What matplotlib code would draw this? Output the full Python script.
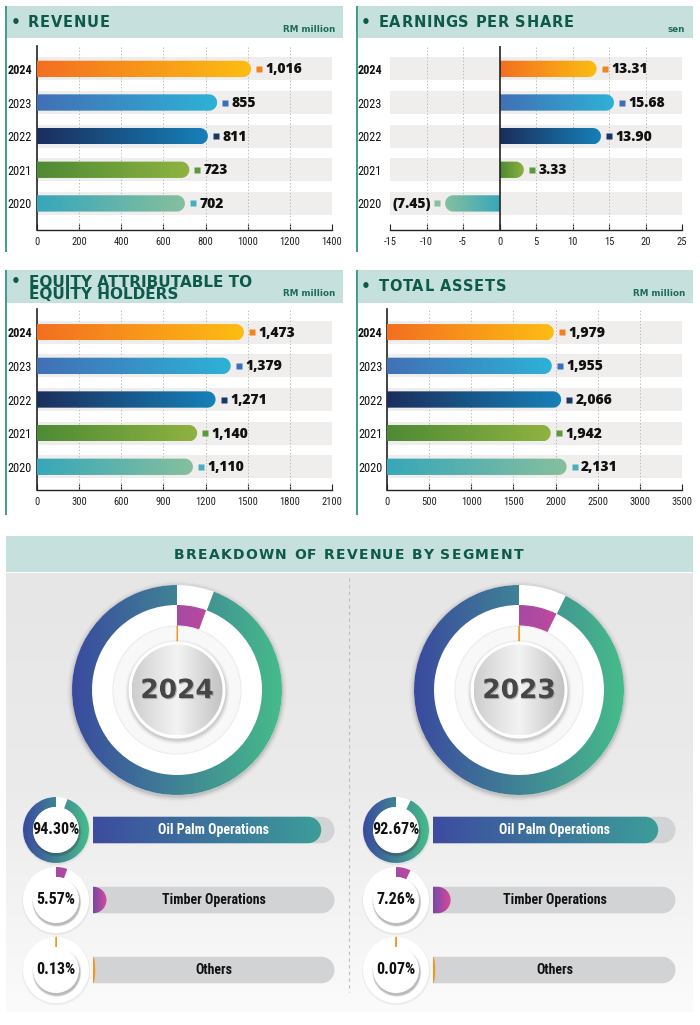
import numpy as np
import matplotlib
matplotlib.use('Agg')
import matplotlib.pyplot as plt
from matplotlib.patches import Rectangle, Circle, Wedge, PathPatch
from matplotlib.path import Path
from matplotlib.transforms import IdentityTransform, offset_copy
from matplotlib.colors import LinearSegmentedColormap
import matplotlib.patheffects as pe
from matplotlib import font_manager as fm

plt.rcParams['axes.unicode_minus'] = False

# ---------------- data ----------------
years = ['2024', '2023', '2022', '2021', '2020']

revenue = [1016, 855, 811, 723, 702]
revenue_text = ['1,016', '855', '811', '723', '702']
revenue_ticks = [0, 200, 400, 600, 800, 1000, 1200, 1400]

eps = [13.31, 15.68, 13.90, 3.33, -7.45]
eps_text = ['13.31', '15.68', '13.90', '3.33', '(7.45)']
eps_ticks = [-15, -10, -5, 0, 5, 10, 15, 20, 25]

equity = [1473, 1379, 1271, 1140, 1110]
equity_text = ['1,473', '1,379', '1,271', '1,140', '1,110']
equity_ticks = [0, 300, 600, 900, 1200, 1500, 1800, 2100]

assets = [1979, 1955, 2066, 1942, 2131]
assets_text = ['1,979', '1,955', '2,066', '1,942', '2,131']
assets_ticks = [0, 500, 1000, 1500, 2000, 2500, 3000, 3500]

segments = ['Oil Palm Operations', 'Timber Operations', 'Others']
share_2024 = [94.30, 5.57, 0.13]
share_2023 = [92.67, 7.26, 0.07]
share_text_2024 = ['94.30%', '5.57%', '0.13%']
share_text_2023 = ['92.67%', '7.26%', '0.07%']

# ---------------- style ----------------
W, H, DPI = 700, 1025, 100
TEAL_BAND = '#c6e1dd'
TITLE_C = '#0d5a4b'
ACCENT = '#3f9e8a'
ROW_BAND = '#efeeec'
bar_colors = {
    '2024': ('#f36f21', '#fdbd13'),
    '2023': ('#4270b6', '#2eb2d6'),
    '2022': ('#1b2e5d', '#1681b8'),
    '2021': ('#4e8a35', '#8fb340'),
    '2020': ('#37a7ba', '#86bf9e'),
}
marker_colors = {'2024': '#f58220', '2023': '#3b6fb8', '2022': '#1b3565',
                 '2021': '#5a9a3a', '2020': '#46afc0'}
OIL = ('#3a4a9f', '#46bc8b')
OIL_BAR = ('#3c4ca0', '#3d9d99')
TIMBER = ('#7549a8', '#d9499b')
OTHERS = '#f7941d'

_names = {f.name for f in fm.fontManager.ttflist}
NARROW = next((n for n in ['Liberation Sans Narrow', 'Roboto Condensed',
                           'DejaVu Sans Condensed'] if n in _names), None)
VALUE_FONT = 'Open Sans' if 'Open Sans' in _names else 'DejaVu Sans'


def nfont(size, bold=False):
    d = dict(fontsize=size, fontweight='bold' if bold else 'normal')
    if NARROW:
        d['family'] = NARROW
    else:
        d.update(family='DejaVu Sans', fontstretch='condensed')
    return d


grad = np.linspace(0, 1, 256).reshape(1, -1)


def cmap2(*cols):
    return LinearSegmentedColormap.from_list('g', list(cols))


fig = plt.figure(figsize=(W / DPI, H / DPI), dpi=DPI)
fig.patch.set_facecolor('white')
bg = fig.add_axes([0, 0, 1, 1])
bg.set_xlim(0, W)
bg.set_ylim(H, 0)
bg.set_autoscale_on(False)
bg.axis('off')
renderer = fig.canvas.get_renderer()


def px_axes(x, y, w, h):
    return fig.add_axes([x / W, 1 - (y + h) / H, w / W, h / H])


def pill_path(xa, xb, yc, h):
    r = h / 2.0
    L = abs(xb - xa)
    s = 1 if xb >= xa else -1
    rx = min(r, L)
    cx = xb - s * rx
    t = np.linspace(-np.pi / 2, np.pi / 2, 48)
    ax_ = cx + s * rx * np.cos(t)
    ay_ = yc + r * np.sin(t)
    verts = [(xa, yc - r)] + list(zip(ax_, ay_)) + [(xa, yc + r), (xa, yc - r)]
    codes = [Path.MOVETO] + [Path.LINETO] * (len(ax_) + 1) + [Path.CLOSEPOLY]
    return Path(verts, codes)


def tracked(x, yc, s, size, track, ha='left', color=TITLE_C, family='DejaVu Sans'):
    fp = fm.FontProperties(family=family, weight='bold', size=size)

    def wid(t):
        return renderer.get_text_width_height_descent(t, fp, ismath=False)[0]
    total = wid(s) + track * (len(s) - 1)
    x0 = x - total / 2 if ha == 'center' else x
    cap = 0.73 * size * DPI / 72
    yb = yc + cap / 2
    for i, ch in enumerate(s):
        if ch == ' ':
            continue
        xi = x0 + (wid(s[:i + 1]) - wid(ch)) + track * i
        bg.text(xi, yb, ch, ha='left', va='baseline', fontproperties=fp,
                color=color, zorder=10)


# ---------------- panel decorations ----------------
panels = [(6, 6, 337, 32, 252), (357, 6, 336, 32, 252),
          (6, 270, 337, 33, 515), (357, 270, 336, 33, 515)]
for (px, py, pw, ph, pbot) in panels:
    bg.add_patch(Rectangle((px, py), pw, ph, fc=TEAL_BAND, ec='none', zorder=1))
    bg.plot([px, px], [py, pbot], color=ACCENT, lw=1.4, zorder=2,
            solid_capstyle='butt')

for (bx, yc) in [(16, 22), (366, 22), (16, 280.5), (366, 285.5)]:
    bg.text(bx, yc + 1, '\u2022', ha='center', va='center', fontsize=11,
            fontweight='bold', color=TITLE_C, zorder=10)
tracked(28, 22, 'REVENUE', 10.5, 0.7)
tracked(378.5, 22, 'EARNINGS PER SHARE', 10.5, 0.7)
bg.text(29, 274.8, 'EQUITY ATTRIBUTABLE TO\nEQUITY HOLDERS', ha='left', va='top',
        fontsize=11, fontweight='bold', color=TITLE_C, linespacing=0.74, zorder=10)
tracked(378.5, 285.5, 'TOTAL ASSETS', 10.5, 0.7)

for (ux, uy, ut) in [(335, 30, 'RM million'), (685, 30, 'sen'),
                     (335, 293.5, 'RM million'), (685, 293.5, 'RM million')]:
    bg.text(ux, uy, ut, ha='right', va='center', fontsize=6.3, fontweight='bold',
            color='#1e6a5b', zorder=10)


# ---------------- bar panels ----------------
def bar_panel(box, vals, texts, ticks, ylim, label_pad, zero_line=False):
    x, y, w, h = box
    ax = px_axes(x, y, w, h)
    ax.set_facecolor('none')
    lo, hi = ticks[0], ticks[-1]
    ax.set_xlim(lo, hi)
    ax.set_ylim(*ylim)
    rows = np.arange(len(vals))
    ax.barh(rows, hi - lo, left=lo, height=0.68, color=ROW_BAND, lw=0, zorder=1)
    for t in ticks[1:-1]:
        if t == 0:
            continue
        ax.axvline(t, color='#b4b4b4', lw=0.7, ls=(0, (1.2, 2.2)), zorder=2)
    p0 = ax.transData.transform((0, 0))
    p1 = ax.transData.transform((0, 1))
    row_px = abs(p1[1] - p0[1])
    bh = 0.485
    for i, (v, yr) in enumerate(zip(vals, years)):
        c0, c1 = bar_colors[yr]
        xa, yc = ax.transData.transform((0, i))
        xb, _ = ax.transData.transform((v, i))
        clip = PathPatch(pill_path(xa, xb, yc, bh * row_px),
                         transform=IdentityTransform(), fc='none', ec='none')
        ax.add_patch(clip)
        im = ax.imshow(grad, extent=(0, v, i + bh / 2, i - bh / 2), aspect='auto',
                       cmap=cmap2(c0, c1), zorder=3, interpolation='bilinear')
        im.set_clip_path(clip)
        s = 1 if v >= 0 else -1
        mc = marker_colors[yr] if v >= 0 else c1
        ax.plot([v], [i], 's', ms=3.8, color=mc, mec='none', zorder=4,
                transform=offset_copy(ax.transData, fig=fig, x=s * 8, y=0, units='dots'))
        ax.text(v, i, texts[i], ha='left' if s > 0 else 'right', va='center',
                fontsize=10, fontweight=800, family=VALUE_FONT, color='#111',
                zorder=4,
                transform=offset_copy(ax.transData, fig=fig, x=s * 14.5, y=-0.5,
                                      units='dots'))
    for sp in ['top', 'right']:
        ax.spines[sp].set_visible(False)
    ax.spines['bottom'].set_color('#222')
    ax.spines['bottom'].set_linewidth(1.0)
    if zero_line:
        ax.spines['left'].set_visible(False)
        ax.axvline(0, color='#222', lw=1.2, zorder=5)
    else:
        ax.spines['left'].set_color('#222')
        ax.spines['left'].set_linewidth(1.2)
    ax.set_xticks(ticks)
    ax.set_xticklabels([str(t) for t in ticks])
    ax.tick_params(axis='x', direction='in', length=4, width=0.8, color='#222',
                   pad=5, labelcolor='#222')
    for lab in ax.get_xticklabels():
        lab.update(nfont(7.6))
    ax.set_yticks(rows)
    ax.set_yticklabels(years)
    ax.tick_params(axis='y', length=0, pad=label_pad, labelcolor='#111')
    for j, lab in enumerate(ax.get_yticklabels()):
        lab.update(nfont(8.8, bold=(j == 0)))
    return ax


bar_panel((37, 46, 295, 184), revenue, revenue_text, revenue_ticks, (4.79, -0.68), 3.6)
bar_panel((390, 46, 292, 184), eps, eps_text, eps_ticks, (4.79, -0.68), 5.8, zero_line=True)
bar_panel((37, 309, 295, 181), equity, equity_text, equity_ticks, (4.69, -0.69), 3.6)
bar_panel((387, 309, 295, 181), assets, assets_text, assets_ticks, (4.69, -0.69), 3.2)

# ---------------- breakdown section ----------------
bg.add_patch(Rectangle((6, 536), 687, 36, fc=TEAL_BAND, ec='none', zorder=1))
tracked_title = 'BREAKDOWN OF REVENUE BY SEGMENT'
_fp = fm.FontProperties(family='DejaVu Sans', weight='bold', size=10)
_w0 = renderer.get_text_width_height_descent(tracked_title, _fp, ismath=False)[0]
_track = (349 - _w0) / (len(tracked_title) - 1)
tracked(348.5, 553.5, tracked_title, 10, _track, ha='center')

bg.imshow(np.linspace(0, 1, 256).reshape(-1, 1), extent=(6, 693, 1012, 573),
          cmap=cmap2('#e6e6e6', '#ebebeb', '#fbfbfb'), aspect='auto', zorder=0.5)
bg.plot([349, 349], [578, 992], color='#bdbdbd', lw=0.8, ls=(0, (3, 3)), zorder=1)


def grad_wedge(cx, cy, R, width, a0, a1, colors, z):
    wdg = Wedge((cx, cy), R, a0 - 90, a1 - 90, width=width,
                transform=bg.transData, fc='none', ec='none')
    bg.add_patch(wdg)
    im = bg.imshow(grad, extent=(cx - R, cx + R, cy + R, cy - R), cmap=cmap2(*colors),
                   aspect='auto', zorder=z, interpolation='bilinear')
    im.set_clip_path(wdg)


def grad_circle(cx, cy, R, colors, z):
    c = Circle((cx, cy), R, transform=bg.transData, fc='none', ec='none')
    bg.add_patch(c)
    im = bg.imshow(grad, extent=(cx - R, cx + R, cy + R, cy - R), cmap=cmap2(*colors),
                   aspect='auto', zorder=z, interpolation='bilinear')
    im.set_clip_path(c)


def big_donut(cx, cy, shares, year):
    oil, timber, others = shares
    R = 105
    for k, a in [(5, 0.025), (3.5, 0.035), (2, 0.05), (1, 0.06)]:
        bg.add_patch(Circle((cx, cy + 1.5), R + k, fc='#000', alpha=a, ec='none', zorder=2))
    bg.add_patch(Circle((cx, cy), R, fc='white', ec='none', zorder=3))
    grad_wedge(cx, cy, R, 20, 360 * (1 - oil / 100), 360, OIL, 4)
    grad_wedge(cx, cy, 85, 22, 0, 360 * timber / 100, TIMBER, 4)
    bg.add_patch(Circle((cx, cy), 64, fc='#f8f8f8', ec='#ececec', lw=0.8, zorder=4))
    bg.add_patch(Wedge((cx, cy), 64, -90, 360 * others / 100 - 90, width=15,
                       fc=OTHERS, ec=OTHERS, lw=0.7, zorder=5))
    for k, a in [(4, 0.04), (2.5, 0.06), (1.2, 0.08)]:
        bg.add_patch(Circle((cx + 0.5, cy + 2), 48 + k, fc='#000', alpha=a, ec='none', zorder=6))
    bg.add_patch(Circle((cx, cy), 48.5, fc='white', ec='none', zorder=6))
    grad_circle(cx, cy, 45.5, ('#cdcdcd', '#e2e2e2', '#f3f3f3', '#dadada', '#c2c2c2'), 7)
    bg.text(cx, cy + 1, year, ha='center', va='center', fontsize=19, fontweight='bold',
            color='#464646', zorder=8,
            path_effects=[pe.withSimplePatchShadow(offset=(0.8, -0.8),
                                                   shadow_rgbFace='#8a8a8a', alpha=0.6)])


def small_donut(cx, cy, idx, shares, text):
    R, r = 33, 23
    v = shares[idx]
    bg.add_patch(Circle((cx + 0.3, cy + 1.2), R + 1, fc='#000', alpha=0.05, ec='none', zorder=3))
    bg.add_patch(Circle((cx, cy), R, fc='white', ec='none', zorder=3))
    if idx == 0:
        grad_wedge(cx, cy, R, R - r, 360 * (1 - v / 100), 360, OIL, 4)
    elif idx == 1:
        grad_wedge(cx, cy, R, R - r, 0, 360 * v / 100, TIMBER, 4)
    else:
        bg.add_patch(Wedge((cx, cy), R, -90, 360 * v / 100 - 90, width=R - r,
                           fc=OTHERS, ec=OTHERS, lw=0.7, zorder=4))
    for k, a in [(1.5, 0.12), (0.6, 0.25)]:
        bg.add_patch(Circle((cx + 0.8, cy + 2.2), r + k, fc='#3a3a3a', alpha=a, ec='none', zorder=5))
    bg.add_patch(Circle((cx, cy), r, fc='white', ec='none', zorder=6))
    bg.text(cx, cy, text, ha='center', va='center', color='#111', zorder=8, **nfont(11.5, True))


def segment_rows(box, shares):
    x, y, w, h = box
    ax = px_axes(x, y, w, h)
    ax.set_xlim(0, 100)
    ax.set_ylim(2.2, -0.2)
    ax.axis('off')
    ph = 26.5
    fills = [OIL_BAR, TIMBER, (OTHERS, OTHERS)]
    for i, (v, lab) in enumerate(zip(shares, segments)):
        xa, yc = ax.transData.transform((0, i))
        xe, _ = ax.transData.transform((100, i))
        xb, _ = ax.transData.transform((v, i))
        gray = PathPatch(pill_path(xa, xe - 0.5, yc, ph), transform=IdentityTransform(),
                         fc='#d2d3d5', ec='none', zorder=1)
        ax.add_patch(gray)
        clip = PathPatch(pill_path(xa, max(xb, xa + 2.2), yc, ph),
                         transform=IdentityTransform(), fc='none', ec='none')
        ax.add_patch(clip)
        im = ax.imshow(grad, extent=(0, max(v, 1), i + 0.3, i - 0.3), aspect='auto',
                       cmap=cmap2(*fills[i]), zorder=2, interpolation='bilinear')
        im.set_clip_path(clip)
        ax.text(50, i, lab, ha='center', va='center', zorder=3,
                color='white' if i == 0 else '#111', **nfont(10, True))


big_donut(177, 690, share_2024, '2024')
big_donut(519, 690, share_2023, '2023')
for idx, cy in enumerate([830, 900, 970]):
    small_donut(56, cy, idx, share_2024, share_text_2024[idx])
    small_donut(396, cy, idx, share_2023, share_text_2023[idx])
segment_rows((93, 816, 242, 168), share_2024)
segment_rows((433, 816, 243, 168), share_2023)

fig.savefig('out.png', dpi=DPI, facecolor='white')
